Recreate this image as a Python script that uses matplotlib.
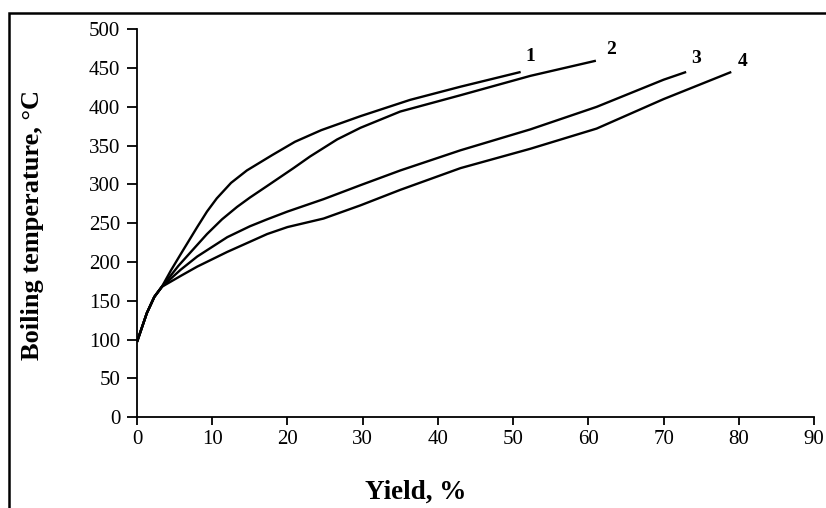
import matplotlib
matplotlib.use("Agg")
import matplotlib.pyplot as plt
from matplotlib.patches import Rectangle

plt.rcParams['font.family'] = ['Liberation Serif', 'DejaVu Serif']

# curve data (yield %, boiling temperature °C)
x1 = [0, 1.3, 2.3, 3.3, 4.5, 5.8, 8.0, 9.3, 10.6, 12.5, 14.6, 18.0, 21.0, 24.5, 29.7, 36.3, 43.0, 51.0]
y1 = [97, 134, 155, 168, 189, 210, 245, 265, 282, 302, 318, 338, 355, 370, 388, 409, 426, 445]

x2 = [0, 1.3, 2.3, 3.3, 5.5, 6.7, 9.3, 11.3, 13.3, 15.0, 17.3, 20.8, 23.0, 26.6, 29.7, 35.0, 43.0, 52.3, 61.0]
y2 = [97, 134, 155, 168, 195, 208, 236, 255, 271, 283, 298, 321, 336, 358, 373, 394, 415, 440, 459.5]

x3 = [0, 1.3, 2.3, 3.3, 5.8, 8.0, 12.0, 15.0, 17.3, 20.0, 24.8, 29.7, 35.0, 43.0, 52.3, 61.1, 70.0, 73.0]
y3 = [97, 134, 155, 168, 190, 207, 232, 246, 255, 265, 281, 299, 318, 344, 371, 400, 435, 445]

x4 = [0, 1.3, 2.3, 3.3, 5.8, 8.0, 12.0, 15.0, 17.3, 20.0, 24.8, 29.7, 35.0, 43.0, 52.3, 61.1, 70.0, 79.0]
y4 = [97, 134, 155, 168, 182, 194, 213, 226, 236, 245, 256, 273, 293, 321, 346, 372, 410, 445]

labels = ["1", "2", "3", "4"]

fig = plt.figure(figsize=(8.26, 5.08), dpi=100)
ax = fig.add_axes([0.1659, 0.179, 0.8196, 0.7633])

curves = [(x1, y1), (x2, y2), (x3, y3), (x4, y4)]
offsets = [(7, 11), (11, 8), (7, 10), (8, 7.5)]
for (xs, ys), lab, off in zip(curves, labels, offsets):
    ax.plot(xs, ys, color='black', lw=1.7, solid_capstyle='butt', solid_joinstyle='round')
    ax.annotate(lab, (xs[-1], ys[-1]), xytext=off, textcoords='offset points',
                ha='center', va='center', fontsize=14, fontweight='bold')

ax.set_xlim(0, 90)
ax.set_ylim(0, 500)
ax.set_xticks(range(0, 91, 10))
ax.set_yticks(range(0, 501, 50))
ax.spines['top'].set_visible(False)
ax.spines['right'].set_visible(False)
for s in ['left', 'bottom']:
    ax.spines[s].set_linewidth(1.3)
ax.tick_params(direction='out', width=1.3, labelsize=15)
ax.tick_params(axis='y', length=7, pad=5)
ax.tick_params(axis='x', length=6, pad=3)

ax.set_xlabel("Yield, %", fontsize=19.5, fontweight='bold', va='center')
ax.xaxis.set_label_coords(0.411, -0.193)
ax.set_ylabel("Boiling temperature, °C", fontsize=19, fontweight='bold', va='center')
ax.yaxis.set_label_coords(-0.155, 0.495)

# outer frame
fig.add_artist(Rectangle((9 / 826, -0.2), 2, 1.2 - 13 / 508, transform=fig.transFigure,
                         fill=False, lw=1.8, edgecolor='black'))

fig.savefig("out.png", dpi=100)
